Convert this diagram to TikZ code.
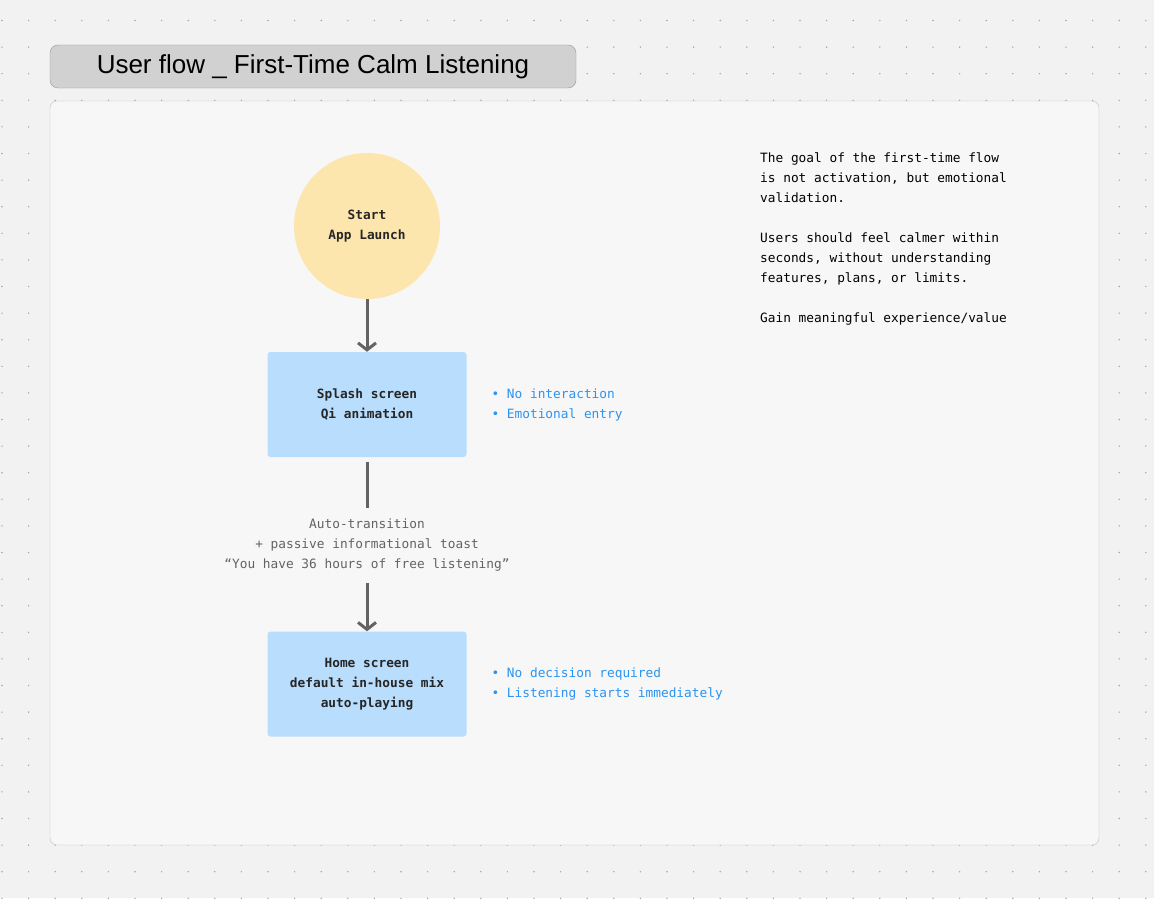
\documentclass[tikz,border=0pt]{standalone}
\usepackage{fontspec}
\setmainfont{Liberation Sans}
\setmonofont{DejaVu Sans Mono}
\usetikzlibrary{arrows.meta}
\definecolor{bgcol}{HTML}{F2F2F2}
\definecolor{panelcol}{HTML}{F7F7F7}
\definecolor{startcol}{HTML}{FDE6AD}
\definecolor{stepcol}{HTML}{B9DEFD}
\definecolor{notecol}{HTML}{2C93F0}
\definecolor{flowcol}{HTML}{636363}
\begin{document}
\begin{tikzpicture}[x=1pt,y=-1pt,
    flow/.style={draw=flowcol,line width=3pt,-{Straight Barb[length=7pt,width=18pt,line width=3pt]}},
    stepbox/.style={fill=stepcol,rounded corners=3pt,minimum width=199pt,minimum height=105pt,
      font=\ttfamily\bfseries\fontsize{12.8}{20}\selectfont,align=center,text=black!85},
    note/.style={font=\ttfamily\fontsize{12.8}{20}\selectfont,text=notecol,align=left,anchor=west},
    plain/.style={font=\ttfamily\fontsize{12.8}{20}\selectfont,align=center,text=flowcol}]
    \fill[bgcol] (0,0) rectangle (1154,898);
    \foreach \i in {0,...,43}
        \foreach \j in {0,...,33}
            \fill[black!35] (2+\i*26.6,20.5+\j*26.6) circle (0.8pt);
    \draw[black!25,fill=panelcol,rounded corners=7pt] (50,101) rectangle (1099,845);
    \node[draw=black!40,fill=black!18,rounded corners=8pt,minimum width=526pt,minimum height=43pt,
      font=\fontsize{26}{30}\selectfont,text=black] (title) at (313,66.5) {User flow \_ First-Time Calm Listening};
    \node[circle,fill=startcol,minimum size=146pt,align=center,
      font=\ttfamily\bfseries\fontsize{12.8}{20}\selectfont,text=black!85] (start) at (367,226) {Start\\App Launch};
    \node[stepbox] (splash) at (367,404.5) {Splash screen\\Qi animation};
    \node[stepbox] (home) at (367,684) {Home screen\\default in-house mix\\auto-playing};
    \node[plain] (toast) at (367,545) {Auto-transition\\+ passive informational toast\\“You have 36 hours of free listening”};
    \coordinate (gapTop) at (367,462);
    \coordinate (gapBot) at (367,508);
    \coordinate (arrTop) at (367,583);
    \draw[flow] (start) -- (splash);
    \draw[draw=flowcol,line width=3pt] (gapTop) -- (gapBot);
    \draw[flow] (arrTop) -- (home);
    \node[note] (splashNotes) at (488,405) {• No interaction\\• Emotional entry};
    \node[note] (homeNotes) at (488,684) {• No decision required\\• Listening starts immediately};
    \node[font=\ttfamily\fontsize{12.8}{20}\selectfont,align=left,anchor=north west,inner sep=0pt,text=black] (goal) at (760,153)
      {The goal of the first-time flow\\is not activation, but emotional\\validation.\\[20pt]Users should feel calmer within\\seconds, without understanding\\features, plans, or limits.\\[20pt]Gain meaningful experience/value};
\end{tikzpicture}
\end{document}
